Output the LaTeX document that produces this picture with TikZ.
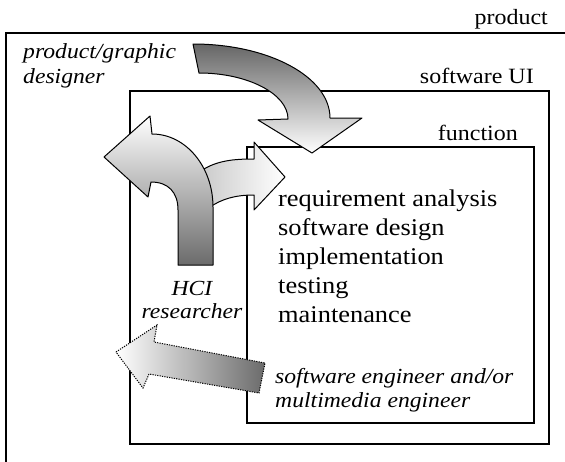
\documentclass[tikz,border=0pt]{standalone}
\usepackage{fontspec}
\setmainfont{Liberation Serif}[FakeStretch=1.1]
\begin{document}
\begin{tikzpicture}[x=1pt,y=-1pt,
  boxline/.style={line width=1.3pt},
  arrowline/.style={draw=black, line width=1pt, line join=round},
  lbl/.style={inner sep=0pt, font=\fontsize{21.8}{25}\selectfont},
  item/.style={inner sep=0pt, anchor=base west, font=\fontsize{24}{28}\selectfont},
  role/.style={inner sep=0pt, font=\fontsize{21.5}{24}\selectfont\itshape}]
\useasboundingbox (0,0) rectangle (565,461);
% boxes
\draw[boxline] (570,33) -- (6,33) -- (6,470);
\draw[boxline] (130,91) rectangle (549,444);
\draw[boxline] (247,147) rectangle (534,423);
% box labels
\node[lbl, anchor=base east] (lproduct) at (548,24) {product};
\node[lbl, anchor=base east] (lui) at (534,83) {software UI};
\node[lbl, anchor=base east] (lfunc) at (518,140) {function};
% list
\node[item] (i1) at (278,206) {requirement analysis};
\node[item] (i2) at (278,235) {software design};
\node[item] (i3) at (278,264) {implementation};
\node[item] (i4) at (278,293) {testing};
\node[item] (i5) at (278,322) {maintenance};
% roles
\node[role, anchor=base west] (d1) at (23,58) {product/graphic};
\node[role, anchor=base west] (d2) at (23,83) {designer};
\node[role, anchor=base] (h1) at (192,295) {HCI};
\node[role, anchor=base] (h2) at (192,318) {researcher};
\node[role, anchor=base west] (s1) at (275,383) {software engineer and/or};
\node[role, anchor=base west] (s2) at (275,407) {multimedia engineer};
% designer arrow
\draw[arrowline, top color=black!60, middle color=black!22, bottom color=white]
  (193,44) .. controls (269,44) and (330,77) .. (330,118) -- (362,118) -- (312,153)
  -- (258,120) -- (288,119) .. controls (288,94) and (248,73) .. (199,73) -- cycle;
% HCI arrow: right branch, then stem
\draw[arrowline, left color=black!22, right color=white]
  (198,173) .. controls (215,160) and (235,159) .. (254,159) -- (254,142) -- (285,177)
  -- (254,210) -- (254,195) .. controls (235,195) and (222,199) .. (210,207)
  -- (195,210) -- cycle;
\draw[arrowline, top color=white, middle color=black!15, bottom color=black!58]
  (178,265) -- (178,210) .. controls (178,192) and (168,182) .. (151,182) -- (148,197)
  -- (104,157) -- (150,116) -- (152,134) .. controls (186,134) and (213,167) .. (213,207)
  -- (213,265) -- cycle;
% engineer arrow
\draw[line width=1pt, dash pattern=on 1.2pt off 1.2pt, left color=white, right color=black!58]
  (116,352) -- (157,325) -- (154,342) -- (265,363) -- (259,393) -- (149,374) -- (143,388) -- cycle;
\end{tikzpicture}
\end{document}
